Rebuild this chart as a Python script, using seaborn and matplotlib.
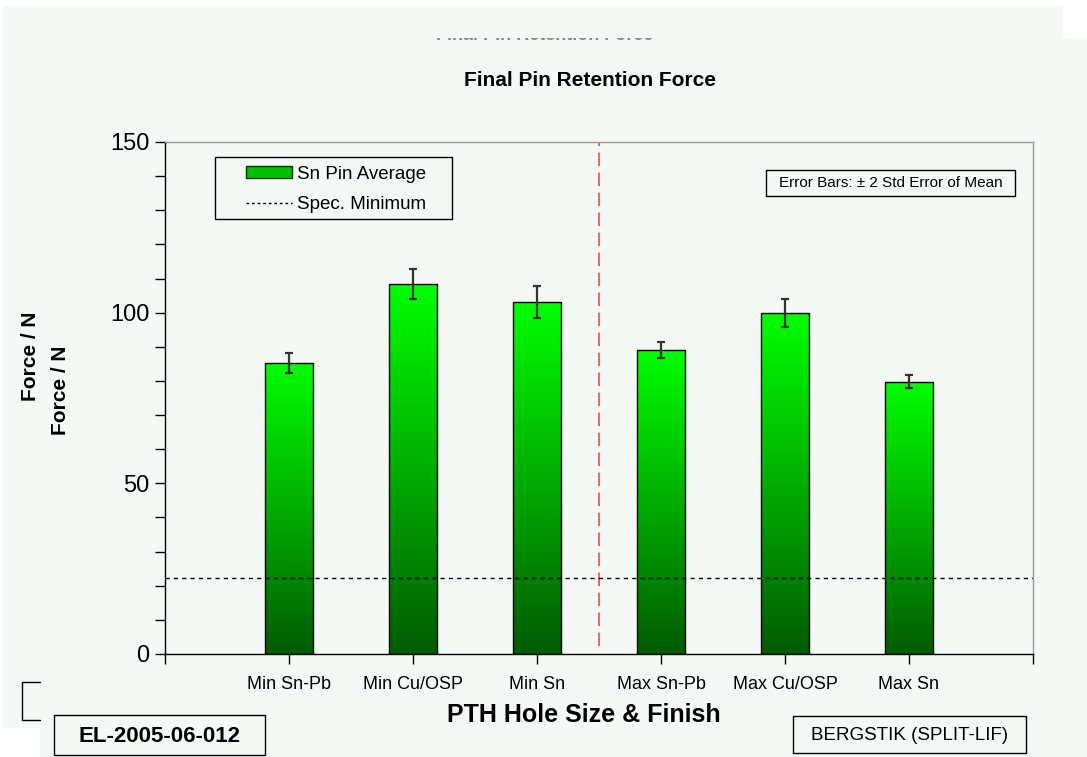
import numpy as np
import pandas as pd
import matplotlib
matplotlib.use("Agg")
import matplotlib.pyplot as plt
import seaborn as sns
from matplotlib.colors import LinearSegmentedColormap
from matplotlib.patches import Patch, Rectangle
from matplotlib.lines import Line2D

categories = ['Min Sn-Pb', 'Min Cu/OSP', 'Min Sn', 'Max Sn-Pb', 'Max Cu/OSP', 'Max Sn']
force_avg = [85.3, 108.4, 103.0, 89.1, 99.9, 79.7]
force_err = [2.9, 4.4, 4.7, 2.3, 4.1, 1.9]
spec_min = 22.3
y_ticks = [0, 50, 100, 150]

BG = '#F4F9F6'
W, H = 1087, 757

sns.set_style("white")
plt.rcParams['font.family'] = ['Liberation Sans', 'DejaVu Sans']
plt.rcParams['text.color'] = 'black'
plt.rcParams['axes.labelcolor'] = 'black'
plt.rcParams['xtick.color'] = 'black'
plt.rcParams['ytick.color'] = 'black'

df = pd.DataFrame({'finish': categories, 'force': force_avg})

fig = plt.figure(figsize=(W / 100, H / 100), dpi=100, facecolor='white')


# rectangles given in pixel coords (top-left origin)
def px_rect(x0, y0, x1, y1, color, z, edge='none'):
    fig.patches.append(Rectangle((x0 / W, 1 - y1 / H), (x1 - x0) / W, (y1 - y0) / H,
                                 transform=fig.transFigure, facecolor=color,
                                 edgecolor=edge, lw=1, zorder=z))


px_rect(3, 6, 1063, 728, BG, -5)
px_rect(1063, 38, W, H, BG, -5)
px_rect(40, 700, 1063, H, BG, -5)

# ghost of an older title, mostly hidden
fig.text(545 / W, 1 - 40 / H, 'Final Pin Retention Force', ha='center', va='baseline',
         fontsize=13, fontweight='bold', color='#888888', zorder=-4)
px_rect(300, 6, 800, 38, BG, -3)

# half-hidden box bottom-left
fig.lines.append(Line2D([40 / W, 22 / W, 22 / W, 40 / W],
                        [1 - 682 / H, 1 - 682 / H, 1 - 720 / H, 1 - 720 / H],
                        transform=fig.transFigure, color='black', lw=1))

ax = fig.add_axes([165 / W, 1 - 654 / H, 868 / W, 512 / H])
ax.set_facecolor(BG)

sns.barplot(data=df, x='finish', y='force', order=categories, color='#00C000',
            width=0.39, errorbar=None, edgecolor='black', linewidth=1, ax=ax)

# vertical green gradient inside each bar
cmap = LinearSegmentedColormap.from_list('grn', ['#005C00', '#00FF00'])
grad = np.linspace(0, 1, 256).reshape(-1, 1)
for p in ax.patches:
    x0, y0 = p.get_x(), p.get_y()
    w, h = p.get_width(), p.get_height()
    p.set_facecolor('none')
    im = ax.imshow(grad, cmap=cmap, origin='lower', aspect='auto',
                   extent=[x0, x0 + w, y0, y0 + h], zorder=1.5)
    im.set_clip_path(p)
    p.set_zorder(2)

ax.errorbar(range(len(categories)), force_avg, yerr=force_err, fmt='none',
            ecolor='#333333', elinewidth=1.6, capsize=3, capthick=1.6, zorder=3)

ax.axhline(spec_min, color='black', lw=1, dashes=(3, 3), zorder=4)
ax.axvline(2.5, ymin=0.016, ymax=1, color='#F04848', lw=1.2, dashes=(8, 4), zorder=1)

ax.set_xlim(-1, len(categories))
ax.set_ylim(0, 150)
ax.set_xticks(range(-1, len(categories) + 1))
ax.set_xticklabels([''] + categories + [''], fontsize=13)
ax.set_yticks(y_ticks)
ax.set_yticklabels([str(v) for v in y_ticks], fontsize=17)
ax.set_yticks(np.arange(0, 151, 10), minor=True)
ax.tick_params(axis='both', which='both', direction='out', length=7, width=1,
               color='black', left=True, bottom=True)
ax.tick_params(axis='x', pad=9)
ax.tick_params(axis='y', pad=4)

for s in ['left', 'bottom']:
    ax.spines[s].set_color('black')
for s in ['top', 'right']:
    ax.spines[s].set_color('#9A9A9A')
for s in ax.spines.values():
    s.set_linewidth(1)

ax.set_xlabel('')
ax.set_ylabel('')

fig.text(590 / W, 1 - 80 / H, 'Final Pin Retention Force', ha='center', va='center',
         fontsize=15, fontweight='bold')
fig.text(584 / W, 1 - 715 / H, 'PTH Hole Size & Finish', ha='center', va='center',
         fontsize=18, fontweight='bold')
fig.text(31 / W, 1 - 356 / H, 'Force / N', rotation=90, ha='center', va='center',
         fontsize=15, fontweight='bold')
fig.text(61 / W, 1 - 390 / H, 'Force / N', rotation=90, ha='center', va='center',
         fontsize=15, fontweight='bold')

# legend: frame drawn separately to get the wide side padding
px_rect(215, 157, 452, 219, BG, 5, edge='black')
handles = [Patch(facecolor='#00C000', edgecolor='#003300', lw=1),
           Line2D([0], [0], color='black', lw=1, dashes=(2, 2))]
leg = fig.legend(handles, ['Sn Pin Average', 'Spec. Minimum'], loc='upper left',
                 bbox_to_anchor=(240 / W, 1 - 160 / H), borderaxespad=0,
                 fontsize=13.5, frameon=False, borderpad=0.3,
                 handlelength=2.45, handleheight=0.6, labelspacing=0.72,
                 handletextpad=0.27)
leg.set_zorder(6)

px_rect(766, 170, 1015, 196, BG, 5, edge='black')
fig.text(891 / W, 1 - 183 / H, 'Error Bars: \u00b1 2 Std Error of Mean',
         ha='center', va='center', fontsize=11, zorder=6)

px_rect(54, 715, 265, 755, BG, 5, edge='black')
fig.text(160 / W, 1 - 736 / H, 'EL-2005-06-012', ha='center', va='center',
         fontsize=16, fontweight='bold', zorder=6)
px_rect(793, 716, 1026, 753, BG, 5, edge='black')
fig.text(910 / W, 1 - 735 / H, 'BERGSTIK (SPLIT-LIF)', ha='center', va='center',
         fontsize=13.5, zorder=6)

fig.savefig('out.png', dpi=100, facecolor='white')
